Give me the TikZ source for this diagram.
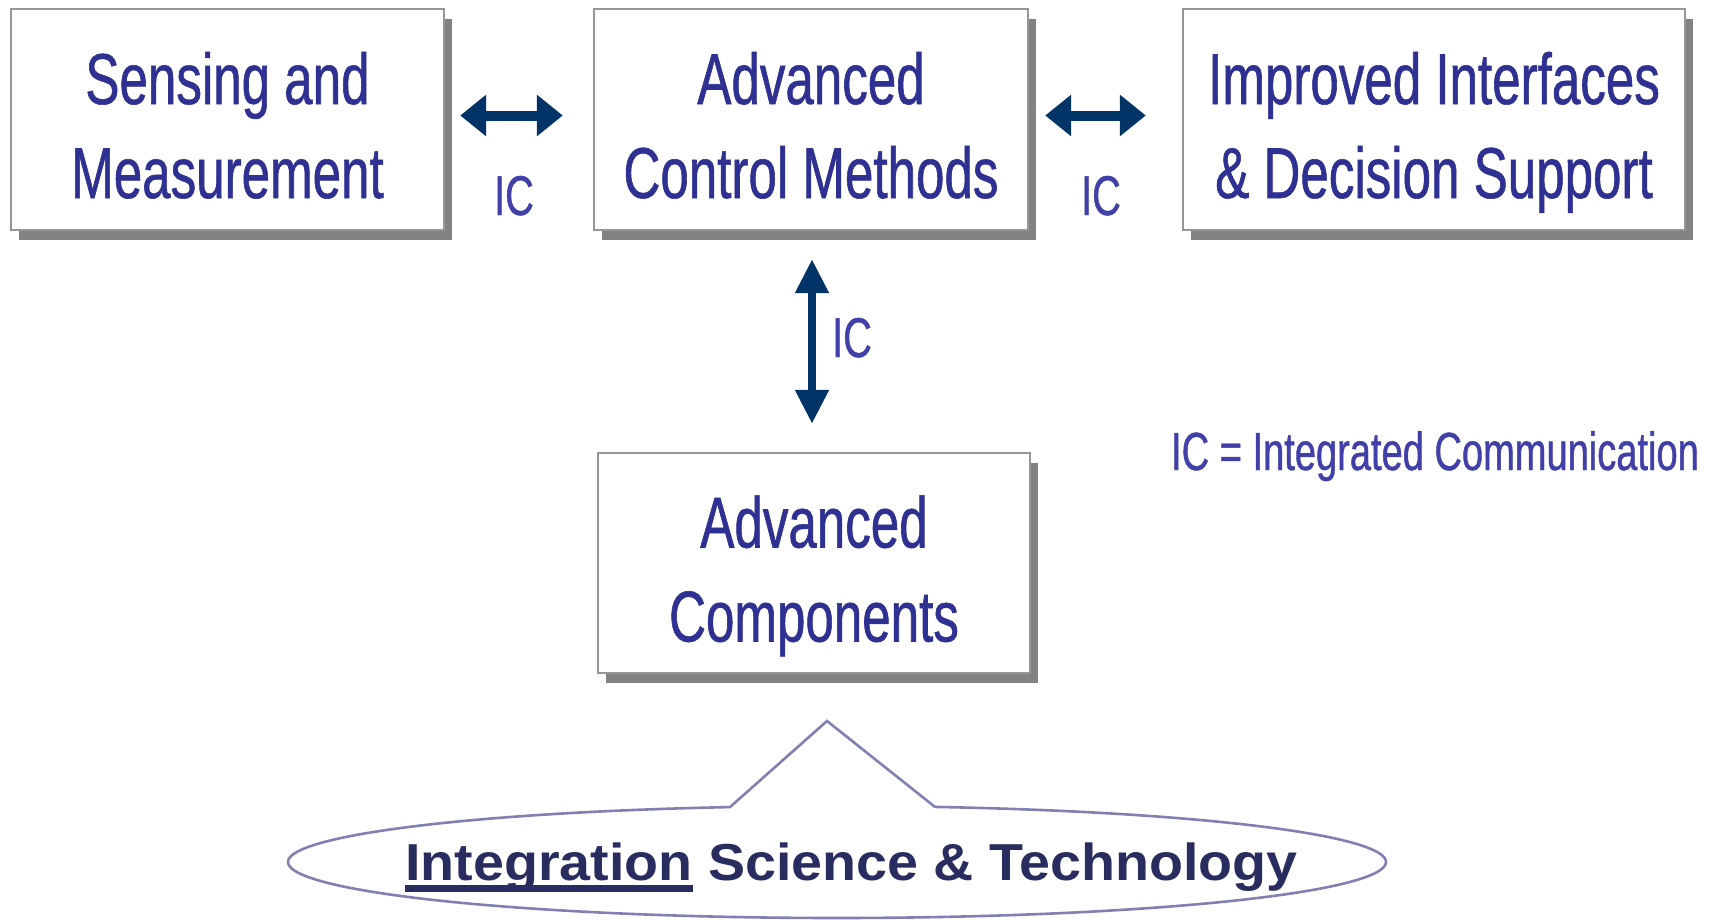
\documentclass[tikz,border=0pt]{standalone}
\usepackage{fontspec}
\setmainfont{Liberation Sans}[FakeStretch=0.71, FakeBold=0.8]
\newfontfamily\widesans{Liberation Sans}[FakeStretch=1.07]
\usetikzlibrary{arrows.meta,shadows}

\definecolor{boxtext}{RGB}{46,49,146}
\definecolor{ictext}{RGB}{64,64,168}
\definecolor{arrownavy}{RGB}{0,51,102}
\definecolor{boxedge}{RGB}{150,150,150}
\definecolor{boxshade}{RGB}{130,130,130}
\definecolor{calloutedge}{RGB}{128,128,178}
\definecolor{basetext}{RGB}{40,44,94}

% word with a heavy rule below it
\newcommand\underlinedword[1]{\setbox0=\hbox{#1}\rlap{\rule[-6pt]{\wd0}{3.5pt}}\box0\relax}
% two centred lines on fixed baselines, whatever their ascenders and descenders
\newcommand\boxlines[2]{\rule{0pt}{32pt}\smash{#1}\\\smash{#2}\rule[-0.5pt]{0pt}{0.5pt}}

\begin{document}
\begin{tikzpicture}[x=0.5pt,y=-0.5pt,
  areabox/.style={draw=boxedge, line width=1.2pt, fill=white, align=center,
    inner sep=0pt, text=boxtext, font=\fontsize{36}{47}\selectfont,
    minimum height=110.5pt,
    drop shadow={shadow xshift=4pt, shadow yshift=-5pt, fill=boxshade, opacity=1}},
  icarrow/.style={draw=arrownavy, fill=arrownavy, line width=5pt,
    {Triangle[width=20pt,length=13pt]}-{Triangle[width=20pt,length=13pt]}},
  icarrowv/.style={draw=arrownavy, fill=arrownavy, line width=4pt,
    {Triangle[width=16pt,length=17pt]}-{Triangle[width=16pt,length=17pt]}},
  iclabel/.style={text=ictext, font=\fontsize{28}{30}\selectfont, inner sep=0pt, anchor=base},
  calloutline/.style={draw=calloutedge, line width=1.3pt, line join=miter}
]
\useasboundingbox (0,0) rectangle (1714,921);

% capability boxes
\node[areabox, minimum width=216.5pt] (sense) at (227.5,119.5) {\boxlines{Sensing and}{Measurement}};
\node[areabox, minimum width=217pt] (control) at (811,119.5) {\boxlines{Advanced}{Control Methods}};
\node[areabox, minimum width=251pt] (iface) at (1434,119.5) {\boxlines{Improved Interfaces}{\& Decision Support}};
\node[areabox, minimum width=216pt, minimum height=110pt] (comp) at (814,563) {\boxlines{Advanced}{Components}};

% integrated communication links
\draw[icarrow, shorten <=7.5pt, shorten >=15pt] ([yshift=2pt]sense.east) -- ([yshift=2pt]control.west);
\draw[icarrow, shorten <=8pt, shorten >=18pt] ([yshift=2pt]control.east) -- ([yshift=2pt]iface.west);
\draw[icarrowv, shorten <=14pt, shorten >=14pt] ([xshift=0.5pt]control.south) -- ([xshift=0.5pt]control.south |- comp.north);

\node[iclabel] (ic1) at (514,215) {IC};
\node[iclabel] (ic2) at (1101,215) {IC};
\node[iclabel] (ic3) at (852,357) {IC};
\node[iclabel, font=\fontsize{26.8}{30}\selectfont] (legend) at (1435,470) {IC = Integrated Communication};

% foundation callout
\coordinate (apex) at (827,721);
\draw[calloutline] plot[domain=-79.72:258.76, samples=240, variable=\t]
  ({837+549*cos(\t)},{862+56*sin(\t)}) -- (apex) -- cycle;
\node[anchor=base, inner sep=0pt, text=basetext, font=\widesans\bfseries\fontsize{26}{30}\selectfont]
  (tech) at (851.5,880) {\underlinedword{Integration} Science \& Technology};
\end{tikzpicture}
\end{document}
